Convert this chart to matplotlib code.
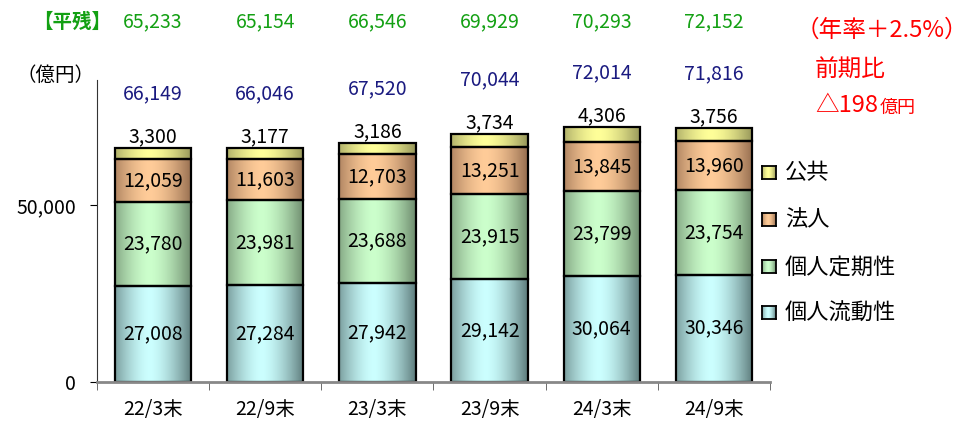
import matplotlib
matplotlib.use("Agg")
import matplotlib.pyplot as plt
import matplotlib.transforms as mtransforms
import numpy as np

plt.rcParams['font.family'] = ['Noto Sans CJK JP', 'DejaVu Sans']

# データ（億円）
categories = ['22/3末', '22/9末', '23/3末', '23/9末', '24/3末', '24/9末']
ryudo = [27008, 27284, 27942, 29142, 30064, 30346]   # 個人流動性
teiki = [23780, 23981, 23688, 23915, 23799, 23754]   # 個人定期性
hojin = [12059, 11603, 12703, 13251, 13845, 13960]   # 法人
kokyo = [3300, 3177, 3186, 3734, 4306, 3756]         # 公共
totals = [66149, 66046, 67520, 70044, 72014, 71816]  # 末残合計
heizan = [65233, 65154, 66546, 69929, 70293, 72152]  # 平残

series_names = ['個人流動性', '個人定期性', '法人', '公共']
series_vals = [ryudo, teiki, hojin, kokyo]
# (暗い端, 明るい中央)
series_cols = [((95, 125, 125), (204, 255, 255)),
               ((110, 140, 110), (204, 255, 204)),
               ((150, 110, 80), (255, 204, 153)),
               ((150, 150, 90), (255, 255, 153))]


def gradient(dark, light, n=64):
    t = np.linspace(0, 1, n)
    mix = np.clip(1 - (np.abs(t - 0.45) / 0.55) ** 1.6, 0, 1)
    d = np.array(dark) / 255.0
    l = np.array(light) / 255.0
    img = d[None, :] + (l - d)[None, :] * mix[:, None]
    return img[None, :, :]


fig = plt.figure(figsize=(9.69, 4.24), dpi=100)
ax = fig.add_axes([97 / 969, 42 / 424, 673 / 969, 302 / 424])

x = np.arange(len(categories))
w = 0.68
bottom = np.zeros(len(categories))
for vals, (dark, light) in zip(series_vals, series_cols):
    img = gradient(dark, light)
    for i in range(len(categories)):
        ax.imshow(img, extent=(x[i] - w / 2, x[i] + w / 2, bottom[i], bottom[i] + vals[i]),
                  aspect='auto', zorder=1, interpolation='bilinear')
    ax.bar(x, vals, w, bottom=bottom, facecolor='none', edgecolor='black', linewidth=1.6, zorder=2)
    bottom = bottom + np.array(vals)

ax.set_xlim(-0.5, len(categories) - 0.5)
ax.set_ylim(0, 85300)

fs = 14
# 棒の中の数値
bottom = np.zeros(len(categories))
for k, vals in enumerate(series_vals[:3]):
    for i, v in enumerate(vals):
        ax.text(x[i], bottom[i] + v / 2, f'{v:,}', ha='center', va='center', fontsize=fs, zorder=3)
    bottom = bottom + np.array(vals)
for i, v in enumerate(kokyo):
    ax.text(x[i], bottom[i] + v + 200, f'{v:,}', ha='center', va='bottom', fontsize=fs, zorder=3)
    ax.text(x[i], bottom[i] + v + 12300, f'{totals[i]:,}', ha='center', va='bottom',
            fontsize=fs, color='#1a1a80', zorder=3)

# 軸
ax.spines['top'].set_visible(False)
ax.spines['right'].set_visible(False)
ax.spines['left'].set_color('#333333')
ax.spines['bottom'].set_color('#888888')
ax.spines['bottom'].set_linewidth(2)
ax.set_yticks([0, 50000])
ax.set_yticklabels(['0', '50,000'], fontsize=fs)
ax.tick_params(axis='y', length=5, direction='out', pad=10)
ax.set_xticks(x)
ax.set_xticklabels(categories, fontsize=fs)
ax.tick_params(axis='x', length=0, pad=12)
ax.set_xticks(np.arange(-0.5, len(categories)), minor=True)
ax.tick_params(axis='x', which='minor', length=6, color='#555555', direction='out')

# 平残（上段）
trans = mtransforms.blended_transform_factory(ax.transData, fig.transFigure)
for i, v in enumerate(heizan):
    ax.text(x[i], 1 - 22 / 424, f'{v:,}', transform=trans, ha='center', va='center',
            fontsize=fs, color='#13a013')
fig.text(72 / 969, 1 - 22 / 424, '【平残】', ha='center', va='center', fontsize=fs,
         color='#13a013', fontweight='bold')
fig.text(55 / 969, 1 - 75 / 424, '（億円）', ha='center', va='center', fontsize=fs)

# 右上の注記
fig.text(882 / 969, 1 - 30 / 424, '（年率＋2.5%）', ha='center', va='center', fontsize=17, color='red')
fig.text(815 / 969, 1 - 70 / 424, '前期比', ha='left', va='center', fontsize=17, color='red')
fig.text(815 / 969, 1 - 106 / 424, '△198', ha='left', va='center', fontsize=17, color='red')
fig.text(880 / 969, 1 - 108 / 424, '億円', ha='left', va='center', fontsize=13, color='red')

# 凡例
leg_y = [173, 220, 267, 313]
for yy, name, (dark, light) in zip(leg_y, series_names[::-1], series_cols[::-1]):
    lax = fig.add_axes([762 / 969, 1 - (yy + 6) / 424, 14 / 969, 13 / 424])
    lax.imshow(gradient(dark, light), aspect='auto', extent=(0, 1, 0, 1))
    lax.set_xticks([])
    lax.set_yticks([])
    for s in lax.spines.values():
        s.set_linewidth(1.3)
        s.set_color('black')
    fig.text(785 / 969, 1 - yy / 424, name, ha='left', va='center', fontsize=16)

fig.savefig('out.png', dpi=100)
